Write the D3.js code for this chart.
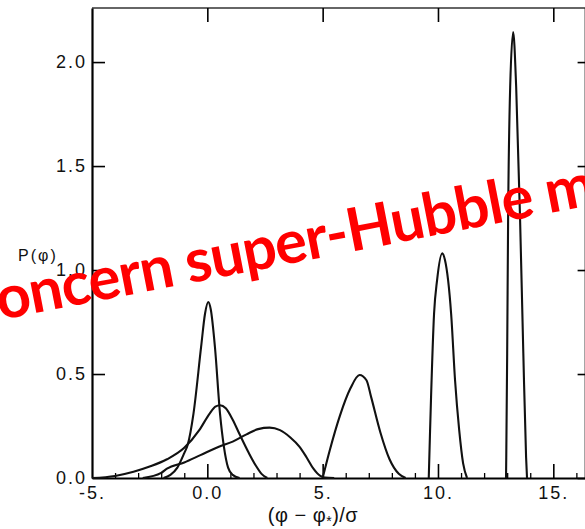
<!DOCTYPE html>
<html>
<head>
<meta charset="utf-8">
<script src="https://cdn.jsdelivr.net/npm/d3@7"></script>
<style>
  body { margin: 0; background: #fff; }
  svg { display: block; }
</style>
</head>
<body>
<div id="plot"></div>
<script>
// curves: [x, P] pairs, x = (phi - phi*)/sigma
var curve_narrow = [[-1.9,0],[-1.6,0.015],[-1.3,0.05],[-1.0,0.12],[-0.85,0.16],[-0.6,0.31],[-0.27,0.63],[-0.1,0.79],[0.04,0.846],[0.15,0.81],[0.33,0.63],[0.55,0.31],[0.72,0.15],[0.9,0.05],[1.1,0.015],[1.4,0]];
var curve_medium = [[-5,0],[-4,0.01],[-3.2,0.03],[-2.5,0.055],[-1.75,0.09],[-1,0.145],[-0.35,0.23],[0.1,0.31],[0.35,0.343],[0.55,0.35],[0.8,0.335],[1.1,0.28],[1.4,0.21],[1.8,0.12],[2.1,0.06],[2.35,0.02],[2.6,0]];
var curve_broad = [[-2.8,0],[-2,0.025],[-1.75,0.045],[-1,0.075],[-0.3,0.11],[0.5,0.15],[1.1,0.175],[1.7,0.21],[2.2,0.235],[2.7,0.242],[3.15,0.23],[3.6,0.195],[4.0,0.15],[4.3,0.1],[4.6,0.045],[4.9,0.01],[5.1,0.002],[5.5,0]];
var curve_mid = [[5.0,0],[5.3,0.13],[5.75,0.3],[6.2,0.43],[6.6,0.495],[6.9,0.47],[7.1,0.39],[7.5,0.22],[7.9,0.09],[8.3,0.02],[8.6,0]];
var curve_tall = [[9.6,0],[9.65,0.2],[9.7,0.39],[9.83,0.79],[9.96,0.95],[10.18,1.08],[10.3,1.05],[10.44,0.95],[10.57,0.79],[10.74,0.47],[10.92,0.23],[11.09,0.07],[11.26,0]];
var curve_spike = [[12.95,0],[12.96,0.1],[13.0,0.6],[13.04,1.24],[13.13,1.88],[13.26,2.144],[13.39,1.88],[13.56,1.24],[13.7,0.6],[13.82,0.1],[13.86,0]];

var x_major = [-5, 0, 5, 10, 15];
var x_major_labels = ["-5.", "0.0", "5.", "10.", "15."];
var x_minor = [-4,-3,-2,-1,1,2,3,4,6,7,8,9,11,12,13,14,16];
var y_major = [0, 0.5, 1.0, 1.5, 2.0];
var y_major_labels = ["0.0", "0.5", "1.0", "1.5", "2.0"];
var stamp = "Concern super-Hubble modes";

var svgwidth = 585, svgheight = 529;
var svg = d3.select("#plot").append("svg").attr("width", svgwidth).attr("height", svgheight);

var xScale = d3.scaleLinear().domain([-5, 16.4]).range([92, 585.6]);
var yScale = d3.scaleLinear().domain([0, 2.26]).range([478, 8]);
var labelFont = "'Liberation Sans', Arial, sans-serif";

// frame
svg.append("line").attr("x1", xScale(-5)).attr("x2", xScale(16.4)).attr("y1", yScale(2.26)).attr("y2", yScale(2.26))
  .attr("stroke", "#333").attr("stroke-width", 1.6);
svg.append("line").attr("x1", xScale(16.4)).attr("x2", xScale(16.4)).attr("y1", yScale(2.26)).attr("y2", yScale(0))
  .attr("stroke", "#222").attr("stroke-width", 2);

// bottom axis, ticks pointing inward
var xAxis = d3.axisBottom(xScale).tickValues(x_major).tickSizeInner(-14).tickSizeOuter(0).tickFormat((d, i) => x_major_labels[i]);
var gx = svg.append("g").attr("transform", "translate(0," + yScale(0) + ")").call(xAxis);
gx.select(".domain").attr("stroke-width", 2.2);
gx.selectAll(".tick line").attr("stroke-width", 1.6);
gx.selectAll(".tick text").attr("y", 8).attr("dy", "0.71em").attr("dx", 0)
  .style("font-family", labelFont).style("font-size", "18px").style("letter-spacing", "2px").attr("fill", "#111");
gx.selectAll(".tick").filter(d => d == -5).select("line").remove();
var gxm = svg.append("g").attr("transform", "translate(0," + yScale(0) + ")")
  .call(d3.axisBottom(xScale).tickValues(x_minor).tickSizeInner(-5).tickSizeOuter(0).tickFormat(""));
gxm.select(".domain").remove();
gxm.selectAll(".tick line").attr("stroke-width", 1.3);

// top ticks
var gt = svg.append("g").attr("transform", "translate(0," + yScale(2.26) + ")")
  .call(d3.axisTop(xScale).tickValues([0, 5, 10, 15]).tickSizeInner(-14).tickSizeOuter(0).tickFormat(""));
gt.select(".domain").remove();
gt.selectAll(".tick line").attr("stroke-width", 1.6);

// left axis
var yAxis = d3.axisLeft(yScale).tickValues(y_major).tickSizeInner(-13).tickSizeOuter(0).tickFormat((d, i) => y_major_labels[i]);
var gy = svg.append("g").attr("transform", "translate(" + xScale(-5) + ",0)").call(yAxis);
gy.select(".domain").attr("stroke-width", 2.2);
gy.selectAll(".tick line").attr("stroke-width", 1.6);
gy.selectAll(".tick text").attr("x", -5)
  .style("font-family", labelFont).style("font-size", "18px").style("letter-spacing", "2px").attr("fill", "#111");
gy.selectAll(".tick").filter(d => d == 0).select("line").remove();

// right ticks
var gr = svg.append("g").attr("transform", "translate(" + xScale(16.4) + ",0)")
  .call(d3.axisRight(yScale).tickValues(y_major).tickSizeInner(-8).tickSizeOuter(0).tickFormat(""));
gr.select(".domain").remove();
gr.selectAll(".tick line").attr("stroke-width", 1.6);

// curves
var line = d3.line().x(d => xScale(d[0])).y(d => yScale(d[1])).curve(d3.curveMonotoneX);
[curve_narrow, curve_medium, curve_broad, curve_mid, curve_tall, curve_spike].forEach(function(c) {
  svg.append("path").datum(c).attr("d", line)
    .attr("fill", "none").attr("stroke", "#111").attr("stroke-width", 2.1).attr("stroke-linejoin", "round");
});

// axis titles
svg.append("text").attr("x", 18).attr("y", 261).text("P(φ)")
  .style("font-family", labelFont).style("font-size", "16px").style("letter-spacing", "2px").attr("fill", "#111");
var xt = svg.append("text").attr("x", 313).attr("y", 522).attr("text-anchor", "middle")
  .style("font-family", labelFont).style("font-size", "20px").style("letter-spacing", "0.5px").attr("fill", "#111");
xt.append("tspan").text("(φ − φ");
xt.append("tspan").attr("dy", 4).style("font-size", "14px").text("*");
xt.append("tspan").attr("dy", -4).text(")/σ");

// red overlay text, starts just off the left edge
var st = svg.append("text").attr("transform", "translate(0,320) rotate(-11)")
  .style("font-family", "Lato, 'Open Sans', sans-serif").style("font-weight", 700).style("font-size", "60px")
  .style("letter-spacing", "-1px").attr("fill", "#ff0000").text(stamp);
st.attr("x", -st.node().getSubStringLength(0, 1));
</script>
</body>
</html>
